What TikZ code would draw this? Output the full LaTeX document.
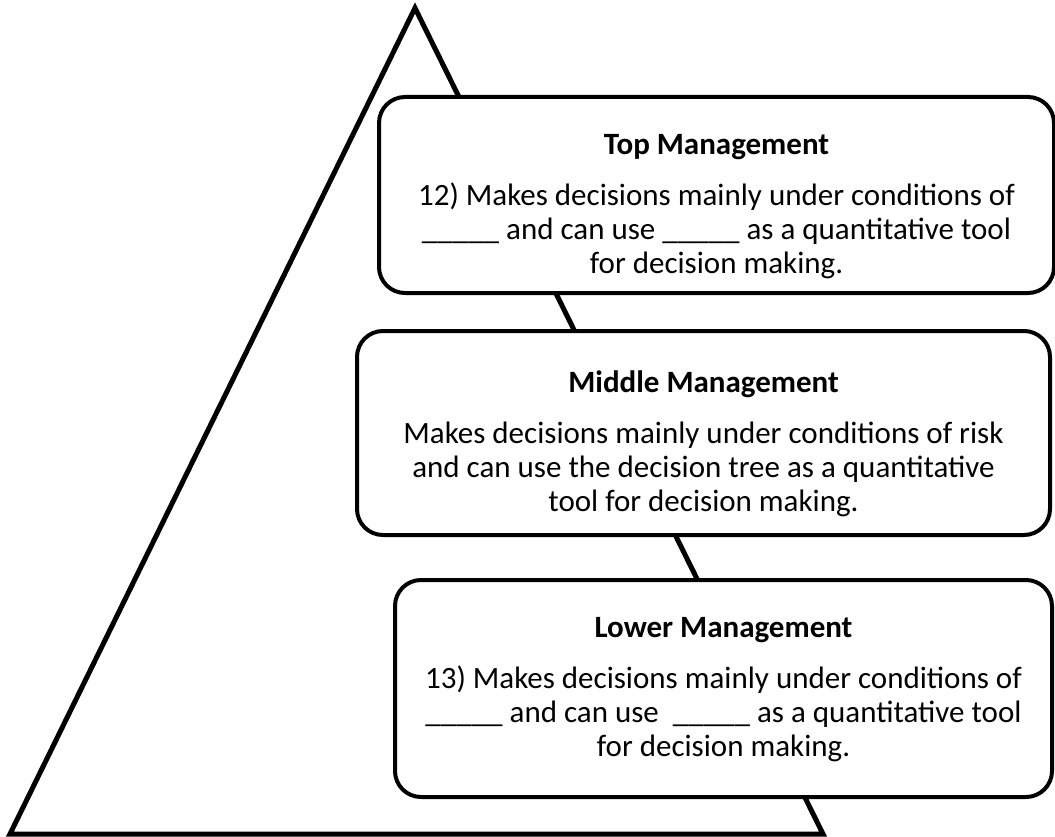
\documentclass[tikz,border=0pt]{standalone}
\usepackage{fontspec}
\setmainfont{Carlito}
\usetikzlibrary{positioning}

\tikzset{
  mgmtbox/.style={draw, fill=white, line width=4pt, rounded corners=26pt,
    anchor=north west, inner sep=0pt},
  mgmttext/.style={align=center, inner sep=0pt,
    font=\fontsize{31}{34}\selectfont}
}
\newcommand{\gap}{\_\_\_\_\_}

\begin{document}
\begin{tikzpicture}[x=1pt,y=-1pt]
\useasboundingbox (0,0) rectangle (1055,837);
% pyramid
\coordinate (apex) at (415,8);
\coordinate (baseL) at (10,834);
\coordinate (baseR) at (823,834);
\draw[line width=5pt] (apex) -- (baseR) -- (baseL) -- cycle;

% the three levels
\node[mgmtbox, minimum width=675pt, minimum height=196pt] (topmgmt) at (377,95) {};
\node[mgmtbox, minimum width=693pt, minimum height=204pt] (midmgmt) at (355,329) {};
\node[mgmtbox, minimum width=657pt, minimum height=217pt] (lowmgmt) at (393,578) {};

\node[mgmttext, below=39pt of topmgmt.north] (toptext)
  {\textbf{Top Management}\\[17pt]
   12) Makes decisions mainly under conditions of\\
   \gap{} and can use \gap{} as a quantitative tool\\
   for decision making.};
\node[mgmttext, below=42pt of midmgmt.north] (midtext)
  {\textbf{Middle Management}\\[17pt]
   Makes decisions mainly under conditions of risk\\
   and can use the decision tree as a quantitative\\
   tool for decision making.};
\node[mgmttext, below=39pt of lowmgmt.north] (lowtext)
  {\textbf{Lower Management}\\[17pt]
   13) Makes decisions mainly under conditions of\\
   \gap{} and can use \ \gap{} as a quantitative tool\\
   for decision making.};
\end{tikzpicture}
\end{document}
